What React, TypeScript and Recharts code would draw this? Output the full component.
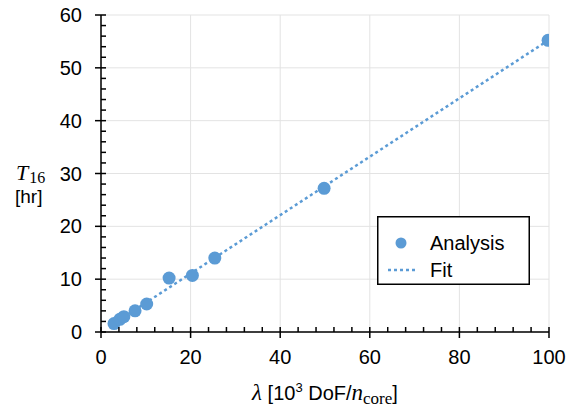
import React from 'react';
import {
  CartesianGrid,
  Legend,
  Scatter,
  ScatterChart,
  XAxis,
  YAxis
} from 'recharts';

// λ [10^3 DoF / n_core] and T16 [hr]
const analysisX = [2.9, 4.2, 5.1, 7.6, 10.2, 15.2, 20.4, 25.4, 49.8, 99.8];
const analysisY = [1.6, 2.4, 2.9, 4.0, 5.3, 10.2, 10.7, 14.0, 27.2, 55.2];

// dotted fit line end points
const fitX = [2.9, 100];
const fitY = [1.6, 55.3];

const xTicks = [0, 20, 40, 60, 80, 100];
const xMinorTicks = [0, 4, 8, 12, 16, 20, 24, 28, 32, 36, 40, 44, 48, 52, 56, 60, 64, 68, 72, 76, 80, 84, 88, 92, 96, 100];
const yTicks = [0, 10, 20, 30, 40, 50, 60];
const yMinorTicks = [0, 2, 4, 6, 8, 10, 12, 14, 16, 18, 20, 22, 24, 26, 28, 30, 32, 34, 36, 38, 40, 42, 44, 46, 48, 50, 52, 54, 56, 58, 60];

const analysisData = analysisX.map((x, i) => ({ x, y: analysisY[i] }));
const fitData = fitX.map((x, i) => ({ x, y: fitY[i] }));

const BLUE = '#5b9bd5';
const SANS = '"Liberation Sans", Arial, sans-serif';
const SERIF = '"Liberation Serif", "Times New Roman", serif';

const TICK_SIZE = 6;
const X_MARGIN = 12;
const Y_MARGIN = 13;

// bottom axis: majors cross the axis and carry a label, minors point inwards
const XTick = (props: any) => {
  const { payload, x, y } = props;
  const axisY = y - TICK_SIZE - X_MARGIN;
  const major = xTicks.includes(payload.value);
  return (
    <g>
      {major
        ? <line stroke='#000' strokeWidth={1.5} x1={x} x2={x} y1={axisY - 5} y2={axisY + TICK_SIZE} />
        : <line stroke='#000' strokeWidth={1.5} x1={x} x2={x} y1={axisY - 5} y2={axisY} />}
      {major && (
        <text dy='0.71em' fill='#000' fontFamily={SANS} fontSize={20} textAnchor='middle' x={x} y={y}>
          {payload.value}
        </text>
      )}
    </g>
  );
};

const YTick = (props: any) => {
  const { payload, x, y } = props;
  const axisX = x + TICK_SIZE + Y_MARGIN;
  const major = yTicks.includes(payload.value);
  return (
    <g>
      {major
        ? <line stroke='#000' strokeWidth={1.5} x1={axisX - TICK_SIZE} x2={axisX + 5} y1={y} y2={y} />
        : <line stroke='#000' strokeWidth={1.5} x1={axisX} x2={axisX + 5} y1={y} y2={y} />}
      {major && (
        <text dy='0.355em' fill='#000' fontFamily={SANS} fontSize={20} textAnchor='end' x={x} y={y}>
          {payload.value}
        </text>
      )}
    </g>
  );
};

const XLabel = (props: any) => {
  const vb = props.viewBox || { x: 101, y: 332, width: 448 };
  const cx = vb.x + vb.width / 2;
  return (
    <text fill='#000' fontFamily={SANS} fontSize={20} textAnchor='middle' x={cx} y={400}>
      <tspan fontFamily={SERIF} fontSize={23} fontStyle='italic'>λ</tspan>
      <tspan> [10</tspan>
      <tspan dy={-8} fontSize={13}>3</tspan>
      <tspan dy={8}> DoF/</tspan>
      <tspan fontFamily={SERIF} fontSize={23} fontStyle='italic'>n</tspan>
      <tspan dy={4} fontFamily={SERIF} fontSize={17}>core</tspan>
      <tspan dy={-4}>]</tspan>
    </text>
  );
};

const YLabel = () => (
  <g fill='#000'>
    <text fontFamily={SERIF} fontSize={22} fontStyle='italic' x={16} y={180}>
      T
      <tspan dx={1} dy={3} fontSize={16} fontStyle='normal'>16</tspan>
    </text>
    <text fontFamily={SANS} fontSize={19} x={15} y={203}>[hr]</text>
  </g>
);

const renderLegend = () => (
  <svg height={69} style={{ display: 'block' }} width={153}>
    <rect fill='#fff' height={67.5} stroke='#000' strokeWidth={1.5} width={151.5} x={0.75} y={0.75} />
    <circle cx={24} cy={27} fill={BLUE} r={5.5} />
    <text fill='#000' fontFamily={SANS} fontSize={20} x={53} y={34}>Analysis</text>
    <line stroke={BLUE} strokeDasharray='3 3' strokeWidth={2.5} x1={11} x2={40} y1={54} y2={54} />
    <text fill='#000' fontFamily={SANS} fontSize={20} x={53} y={61}>Fit</text>
  </svg>
);

const noDot = () => <g />;

function App (): JSX.Element {
  return (
    <div style={{ background: '#fff', height: 412, left: 0, position: 'absolute', top: 0, width: 571 }}>
      <ScatterChart
        height={412}
        margin={{ bottom: 20, left: 61, right: 22, top: 15 }}
        width={571}
      >
        <CartesianGrid
          horizontalValues={yTicks}
          stroke='#e3e3e3'
          strokeWidth={1}
          verticalValues={xTicks}
        />
        <XAxis
          allowDataOverflow
          axisLine={{ stroke: '#000', strokeWidth: 1.5 }}
          dataKey='x'
          domain={[0, 100]}
          height={60}
          interval={0}
          label={<XLabel />}
          tick={<XTick />}
          tickLine={false}
          tickMargin={X_MARGIN}
          tickSize={TICK_SIZE}
          ticks={xMinorTicks}
          type='number'
        />
        <YAxis
          allowDataOverflow
          axisLine={{ stroke: '#000', strokeWidth: 1.5 }}
          dataKey='y'
          domain={[0, 60]}
          interval={0}
          label={<YLabel />}
          tick={<YTick />}
          tickLine={false}
          tickMargin={Y_MARGIN}
          tickSize={TICK_SIZE}
          ticks={yMinorTicks}
          type='number'
          width={40}
        />
        <Scatter
          data={fitData}
          isAnimationActive={false}
          line={{ stroke: BLUE, strokeDasharray: '3 3', strokeWidth: 2.5 }}
          name='Fit'
          shape={noDot}
        />
        <Scatter
          data={analysisData}
          fill={BLUE}
          isAnimationActive={false}
          name='Analysis'
          shape={(p: any) => <circle cx={p.cx} cy={p.cy} fill={BLUE} r={6.5} />}
        />
        <Legend
          align='center'
          content={renderLegend}
          layout='horizontal'
          verticalAlign='middle'
          wrapperStyle={{ height: 69, left: 377, top: 216, width: 153 }}
        />
      </ScatterChart>
    </div>
  );
}

export default App;
